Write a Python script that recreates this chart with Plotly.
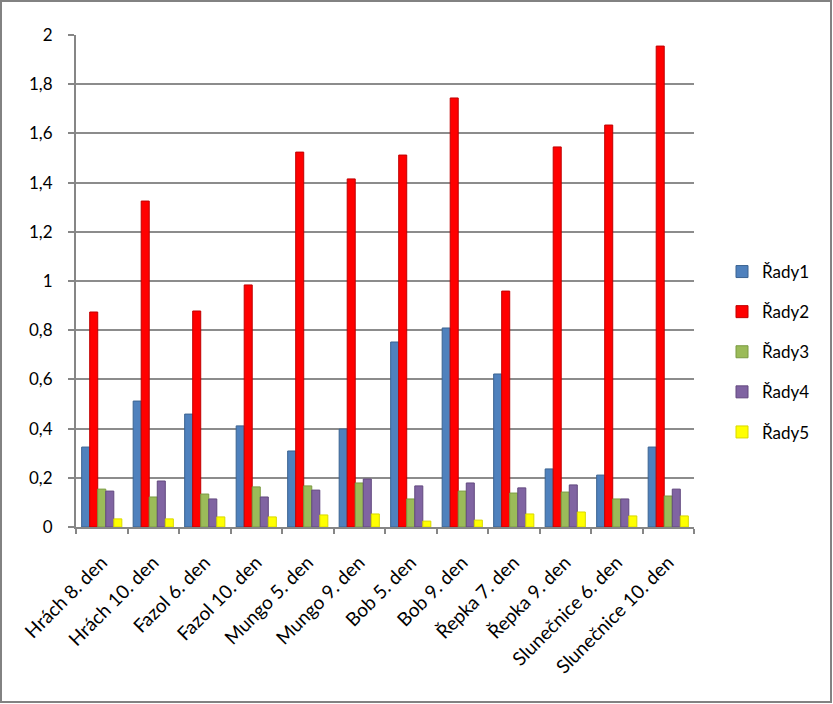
import plotly.graph_objects as go

categories = ["Hrách 8. den", "Hrách 10. den", "Fazol 6. den", "Fazol 10. den",
              "Mungo 5. den", "Mungo 9. den", "Bob 5. den", "Bob 9. den",
              "Řepka 7. den", "Řepka 9. den", "Slunečnice 6. den", "Slunečnice 10. den"]

rady1 = [0.325, 0.512, 0.459, 0.411, 0.309, 0.398, 0.752, 0.809, 0.622, 0.236, 0.211, 0.325]
rady2 = [0.874, 1.325, 0.878, 0.984, 1.524, 1.415, 1.512, 1.744, 0.959, 1.545, 1.634, 1.955]
rady3 = [0.154, 0.122, 0.134, 0.163, 0.167, 0.179, 0.114, 0.146, 0.138, 0.142, 0.114, 0.126]
rady4 = [0.146, 0.187, 0.114, 0.122, 0.150, 0.195, 0.167, 0.179, 0.159, 0.171, 0.114, 0.154]
rady5 = [0.033, 0.033, 0.041, 0.041, 0.049, 0.053, 0.024, 0.028, 0.053, 0.061, 0.045, 0.045]

series_names = ["Řady1", "Řady2", "Řady3", "Řady4", "Řady5"]
series_values = [rady1, rady2, rady3, rady4, rady5]
colors = ["#4F81BD", "#FF0000", "#9BBB59", "#8064A2", "#FFFF00"]
edge_colors = ["#3B6391", "#C00000", "#7A9A42", "#62497F", "#D8D800"]

y_ticks = [0, 0.2, 0.4, 0.6, 0.8, 1.0, 1.2, 1.4, 1.6, 1.8, 2.0]
y_ticktext = ["0", "0,2", "0,4", "0,6", "0,8", "1", "1,2", "1,4", "1,6", "1,8", "2"]

FONT = "Lato"

fig = go.Figure()
for i, (name, vals) in enumerate(zip(series_names, series_values)):
    fig.add_trace(go.Bar(
        x=categories, y=vals, name=name, legendgroup=name,
        marker=dict(color=colors[i], line=dict(color=edge_colors[i], width=1)),
    ))

L, R, T, B = 76, 139, 35, 177
W, H = 833, 704
pw, ph = W - L - R, H - T - B

fig.update_layout(
    width=W, height=H,
    margin=dict(l=L, r=R, t=T, b=B),
    paper_bgcolor="white", plot_bgcolor="white",
    barmode="group", bargap=0.22, bargroupgap=0,
    font=dict(family=FONT, size=17, color="black"),
    showlegend=True,
    legend=dict(x=(722 - L) / pw, y=(527 - 352) / ph, xanchor="left", yanchor="middle",
                font=dict(family=FONT, size=17, color="black"),
                traceorder="grouped", tracegroupgap=15, bgcolor="rgba(0,0,0,0)"),
    xaxis=dict(
        type="category", tickangle=-45, tickfont=dict(family=FONT, size=19),
        showline=True, linecolor="#868686", linewidth=2,
        ticks="outside", tickson="boundaries", ticklen=5, tickcolor="#868686", tickwidth=2,
        showgrid=False, ticklabelstandoff=15,
    ),
    yaxis=dict(
        range=[0, 2], tickvals=y_ticks, ticktext=y_ticktext,
        tickfont=dict(family=FONT, size=17),
        showline=True, linecolor="#868686", linewidth=2,
        ticks="outside", ticklen=6, tickcolor="#868686", tickwidth=2,
        showgrid=True, gridcolor="#8C8C8C", gridwidth=2,
        zeroline=False, ticklabelstandoff=12,
    ),
    shapes=[dict(type="rect", xref="paper", yref="paper",
                 x0=(1 - L) / pw, x1=(W - 2 - L) / pw,
                 y0=(H - B - (H - 2)) / ph, y1=(H - B - 1) / ph,
                 line=dict(color="#828282", width=2), fillcolor="rgba(0,0,0,0)", layer="above")],
)

fig.write_html("out.html")
